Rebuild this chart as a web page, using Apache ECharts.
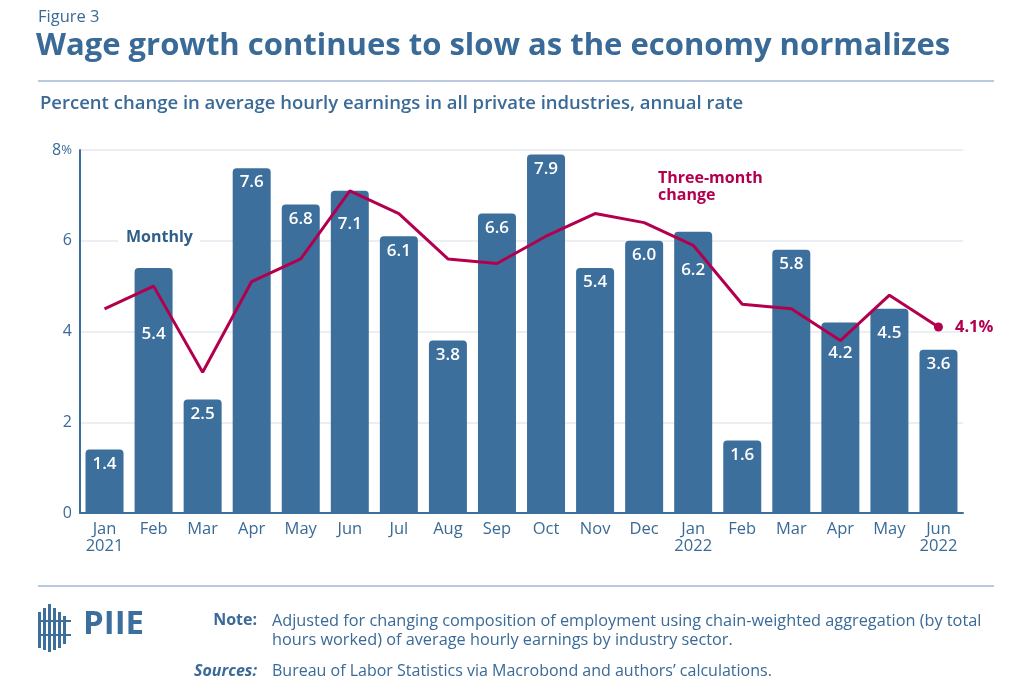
<!DOCTYPE html>
<html><head><meta charset="utf-8">
<script src="https://cdn.jsdelivr.net/npm/echarts@6/dist/echarts.min.js"></script>
<style>html,body{margin:0;padding:0;background:#fff}#c{width:1024px;height:693px}</style>
</head><body><div id="c"></div>
<script>
const categories = ['Jan\n2021','Feb','Mar','Apr','May','Jun','Jul','Aug','Sep','Oct','Nov','Dec','Jan\n2022','Feb','Mar','Apr','May','Jun\n2022'];
const monthly = [1.4,5.4,2.5,7.6,6.8,7.1,6.1,3.8,6.6,7.9,5.4,6.0,6.2,1.6,5.8,4.2,4.5,3.6];
const threeMonth = [4.5,5.0,3.1,5.1,5.6,7.1,6.6,5.6,5.5,6.1,6.6,6.4,5.9,4.6,4.5,3.8,4.8,4.1];
const yTicks = [0,2,4,6,8];

const BLUE = '#3d6f9c', TXT = '#3a6a97', RED = '#b3004e';
const FONT = '"Open Sans", Lato, sans-serif';
// extra downward shift of some bar labels so they clear the line (style only)
const labelShift = {1:52, 5:19, 12:24, 15:16, 16:10};

const chart = echarts.init(document.getElementById('c'));
const barData = monthly.map((v,i)=> labelShift[i] ? {value:v, label:{distance:6+labelShift[i]}} : v);
const lineData = threeMonth.map((v,i)=> i===threeMonth.length-1 ? {
  value:v, symbol:'circle', symbolSize:9,
  label:{show:true, position:'right', distance:12, formatter: p=>p.value.toFixed(1)+'%', color:RED, fontWeight:'bold', fontSize:16.5, fontFamily:FONT}
} : v);

chart.setOption({
  animation:false,
  textStyle:{fontFamily:FONT},
  grid:{left:80, right:61, top:150, bottom:180},
  xAxis:{type:'category', data:categories,
    axisLine:{lineStyle:{color:BLUE,width:2}}, axisTick:{show:false},
    axisLabel:{color:TXT, fontSize:16.5, lineHeight:17, margin:8, interval:0}},
  yAxis:{type:'value', min:0, max:8, interval:2,
    axisLine:{show:true, lineStyle:{color:BLUE,width:2}}, axisTick:{show:false},
    splitLine:{lineStyle:{color:'#e4eaf1', width:1.5}},
    axisLabel:{color:TXT, fontSize:16, margin:8,
      formatter: v => v===8 ? '{a|8}{b|%}' : String(yTicks[yTicks.indexOf(v)]),
      rich:{a:{color:TXT,fontSize:16,fontFamily:FONT}, b:{color:TXT,fontSize:13,fontFamily:FONT}}}},
  series:[
    {type:'bar', data:barData, barWidth:38, itemStyle:{color:BLUE, borderRadius:[4,4,0,0]},
     label:{show:true, position:'insideTop', distance:6, color:'#fff', fontSize:17, fontWeight:600, fontFamily:FONT,
       formatter:p=>p.value.toFixed(1)}},
    {type:'line', data:lineData, symbol:'none', showSymbol:true, lineStyle:{color:RED,width:3}, itemStyle:{color:RED}, z:5}
  ],
  graphic:[
    {type:'text', left:38, top:9, style:{text:'Figure 3', fill:TXT, font:'16.5px '+FONT}},
    {type:'text', left:36, top:31, style:{text:'Wage growth continues to slow as the economy normalizes', fill:TXT, font:'bold 31px '+FONT}},
    {type:'rect', shape:{x:38,y:80,width:956,height:2}, style:{fill:'#b8cadb'}},
    {type:'text', left:40, top:94, style:{text:'Percent change in average hourly earnings in all private industries, annual rate', fill:TXT, font:'600 18.5px '+FONT}},
    {type:'rect', shape:{x:118,y:228,width:82,height:22}, style:{fill:'#fff'}, z:3},
    {type:'text', left:126, top:229, z:4, style:{text:'Monthly', fill:'#2f5f88', font:'bold 16px '+FONT}},
    {type:'text', left:658, top:170, z:4, style:{text:'Three-month\nchange', fill:RED, font:'bold 16px '+FONT, lineHeight:17}},
    {type:'rect', shape:{x:38,y:585,width:956,height:2}, style:{fill:'#b8cadb'}},
    // logo
    {type:'group', left:38, top:604, children:[
      {type:'rect', shape:{x:0,y:8,width:3,height:36}, style:{fill:BLUE}},
      {type:'rect', shape:{x:5,y:4,width:3,height:42}, style:{fill:BLUE}},
      {type:'rect', shape:{x:10,y:0,width:3,height:48}, style:{fill:BLUE}},
      {type:'rect', shape:{x:15,y:4,width:3,height:42}, style:{fill:BLUE}},
      {type:'rect', shape:{x:20,y:8,width:3,height:36}, style:{fill:BLUE}},
      {type:'rect', shape:{x:25,y:12,width:3,height:28}, style:{fill:BLUE}},
      {type:'rect', shape:{x:3,y:16,width:30,height:2}, style:{fill:BLUE}},
      {type:'rect', shape:{x:3,y:30,width:30,height:2}, style:{fill:BLUE}},
      {type:'text', left:45, top:4, style:{text:'PIIE', fill:BLUE, font:'bold 33px '+FONT}}
    ]},
    {type:'text', right:1024-257, top:612, style:{text:'Note:', fill:TXT, font:'bold 16px '+FONT, align:'right'}},
    {type:'text', left:272, top:612, style:{text:'Adjusted for changing composition of employment using chain-weighted aggregation (by total\nhours worked) of average hourly earnings by industry sector.', fill:TXT, font:'16.3px '+FONT, lineHeight:19}},
    {type:'text', right:1024-257, top:663, style:{text:'Sources:', fill:TXT, font:'italic bold 16px '+FONT, align:'right'}},
    {type:'text', left:272, top:663, style:{text:'Bureau of Labor Statistics via Macrobond and authors\u2019 calculations.', fill:TXT, font:'16px '+FONT}}
  ]
});
</script></body></html>
